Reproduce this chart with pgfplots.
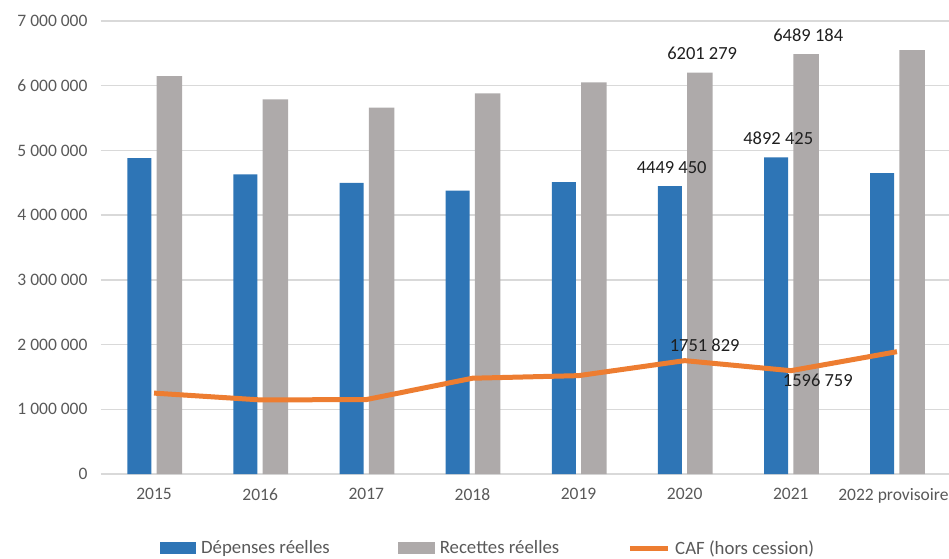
\documentclass[border=0pt]{standalone}
\usepackage{fontspec}
\setmainfont{Carlito}
\usepackage{pgfplots}
\pgfplotsset{compat=1.18}
\definecolor{cblue}{HTML}{2E75B6}
\definecolor{cgray}{HTML}{AEAAAA}
\definecolor{corange}{HTML}{ED7D31}
\definecolor{cgrid}{HTML}{D9D9D9}
\definecolor{ctext}{HTML}{595959}
\begin{document}
\begin{tikzpicture}
\useasboundingbox (-101pt,-84pt) rectangle (848pt,474pt);
\begin{axis}[
 at={(0pt,0pt)}, anchor=south west,
 scale only axis, width=849pt, height=453pt,
 xmin=-0.5, xmax=7.5, ymin=0, ymax=7000000,
 axis line style={draw=none},
 major tick length=0pt,
 ymajorgrids, grid style={cgrid, line width=1.4pt},
 ytick={0,1000000,2000000,3000000,4000000,5000000,6000000,7000000},
 yticklabels={0,1 000 000,2 000 000,3 000 000,4 000 000,5 000 000,6 000 000,7 000 000},
 xtick={0,1,2,3,4,5,6,7},
 xticklabels={2015,2016,2017,2018,2019,2020,2021,2022 provisoire\hspace*{7pt}},
 tick label style={font=\fontsize{17.5}{20}\selectfont, text=ctext},
 xticklabel style={yshift=-11pt},
 yticklabel style={xshift=-10pt},
 scaled y ticks=false,
 clip=false,
 legend columns=3,
 legend style={at={(0.456,-0.1634)}, anchor=center, draw=none, fill=none,
   font=\fontsize{18.8}{21}\selectfont, text=ctext,
   /tikz/every odd column/.append style={column sep=3pt},
   /tikz/every even column/.append style={column sep=66pt}},
]
\addplot[ybar, bar width=24pt, bar shift=-14.7pt, fill=cblue, draw=none,
  legend image code/.code={\fill[cblue] (0pt,-6pt) rectangle (36pt,6pt);}]
  coordinates {(0,4880000) (1,4630000) (2,4500000) (3,4380000) (4,4510000) (5,4449450) (6,4892425) (7,4650000)};
\addlegendentry{Dépenses réelles}
\addplot[ybar, bar width=25.5pt, bar shift=15.3pt, fill=cgray, draw=none,
  legend image code/.code={\fill[cgray] (0pt,-6pt) rectangle (37pt,6pt);}]
  coordinates {(0,6150000) (1,5790000) (2,5660000) (3,5880000) (4,6050000) (5,6201279) (6,6489184) (7,6550000)};
\addlegendentry{Recettes réelles}
\addplot[sharp plot, corange, line width=5pt, line join=round, no markers,
  legend image code/.code={\draw[corange, line width=5pt] (0pt,0pt) -- (38pt,0pt);}]
  coordinates {(0,1250000) (1,1145000) (2,1150000) (3,1480000) (4,1520000) (5,1751829) (6,1596759) (7,1890000)};
\addlegendentry{CAF (hors cession)}
\begin{scope}[every node/.style={font=\fontsize{18.5}{21}\selectfont, text=black!88}]
\node[xshift=-13pt, yshift=19pt] at (axis cs:5,4449450) {4449 450};
\node[xshift=17.5pt, yshift=19pt] at (axis cs:5,6201279) {6201 279};
\node[xshift=-12.6pt, yshift=19pt] at (axis cs:6,4892425) {4892 425};
\node[xshift=17.4pt, yshift=19pt] at (axis cs:6,6489184) {6489 184};
\node[xshift=20pt, yshift=15.7pt] at (axis cs:5,1751829) {1751 829};
\node[xshift=27pt, yshift=-10pt] at (axis cs:6,1596759) {1596 759};
\end{scope}
\end{axis}
\end{tikzpicture}
\end{document}
